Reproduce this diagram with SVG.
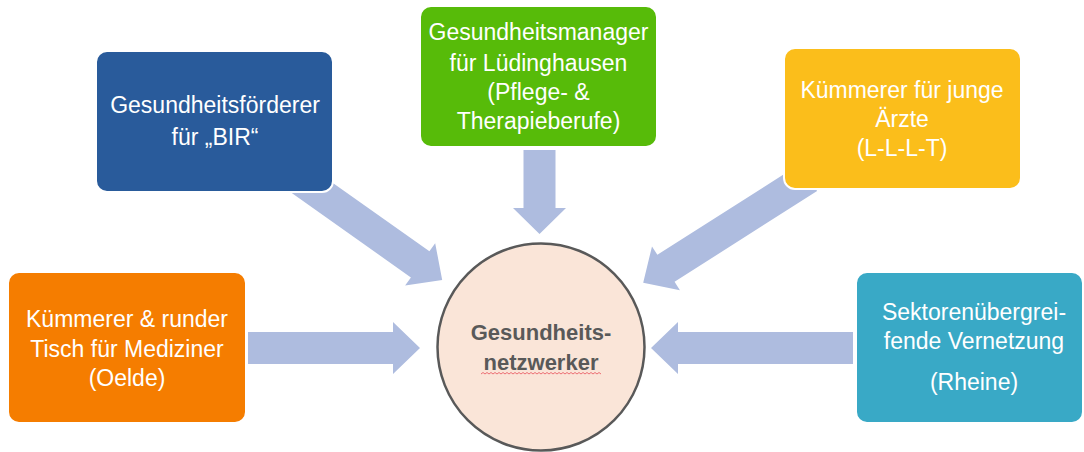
<svg xmlns="http://www.w3.org/2000/svg" width="1084" height="452" viewBox="0 0 1084 452">
  <style>
    .arrow { fill: #AEBCDF; }
    .box { stroke: #FFFFFF; stroke-width: 2; }
    .lbl { font-family: "Liberation Sans", Arial, sans-serif; font-size: 23px; fill: #FFFFFF; text-anchor: middle; }
    .center { font-family: "Liberation Sans", Arial, sans-serif; font-size: 22px; font-weight: bold; fill: #595959; text-anchor: middle; }
  </style>
  <rect width="1084" height="452" fill="#FFFFFF"/>
  <g id="connectors">
    <polygon class="arrow" transform="translate(301,180) rotate(35.3)" points="0,-16 146,-16 146,-26 173,0 146,26 146,16 0,16"/>
    <polygon class="arrow" transform="translate(808.5,177.5) rotate(147.5)" points="0,-16 169,-16 169,-26 196,0 169,26 169,16 0,16"/>
    <polygon class="arrow" transform="translate(539.5,150) rotate(90)" points="0,-16 58,-16 58,-26.5 84,0 58,26.5 58,16 0,16"/>
    <polygon class="arrow" transform="translate(248,348)" points="0,-16 145,-16 145,-26 172,0 145,26 145,16 0,16"/>
    <polygon class="arrow" transform="translate(853,348) rotate(180)" points="0,-16 175,-16 175,-26 202,0 175,26 175,16 0,16"/>
  </g>
  <g id="node-bir">
    <rect class="box" x="96" y="51" width="237" height="141" rx="11" fill="#295B9B"/>
    <text class="lbl" x="215" y="113">Gesundheitsförderer</text>
    <text class="lbl" x="215" y="145">für „BIR“</text>
  </g>
  <g id="node-luedinghausen">
    <rect class="box" x="420" y="6" width="237" height="141" rx="11" fill="#57BB09"/>
    <text class="lbl" x="538.5" y="40">Gesundheitsmanager</text>
    <text class="lbl" x="538.5" y="71">für Lüdinghausen</text>
    <text class="lbl" x="538.5" y="100">(Pflege- &amp;</text>
    <text class="lbl" x="538.5" y="129">Therapieberufe)</text>
  </g>
  <g id="node-llt">
    <rect class="box" x="784" y="48" width="237" height="141" rx="11" fill="#FBBE1B"/>
    <text class="lbl" x="902" y="98">Kümmerer für junge</text>
    <text class="lbl" x="902" y="127">Ärzte</text>
    <text class="lbl" x="902" y="156">(L-L-L-T)</text>
  </g>
  <g id="node-oelde">
    <rect class="box" x="8" y="272" width="238" height="151" rx="11" fill="#F57D00"/>
    <text class="lbl" x="127" y="327">Kümmerer &amp; runder</text>
    <text class="lbl" x="127" y="357">Tisch für Mediziner</text>
    <text class="lbl" x="127" y="386">(Oelde)</text>
  </g>
  <g id="node-rheine">
    <rect class="box" x="856" y="272" width="227" height="151" rx="11" fill="#39A9C6"/>
    <text class="lbl" x="974" y="320">Sektorenübergrei-</text>
    <text class="lbl" x="974" y="349">fende Vernetzung</text>
    <text class="lbl" x="974" y="390">(Rheine)</text>
  </g>
  <g id="node-center">
    <circle cx="541" cy="347" r="103.5" fill="#FAE5D8" stroke="#595959" stroke-width="2.5"/>
    <text class="center" x="541" y="340">Gesundheits-</text>
    <text class="center" x="541" y="370">netzwerker</text>
    <polyline fill="none" stroke="#E8505B" stroke-width="0.8" points="481,374 483,372.5 485,374 487,372.5 489,374 491,372.5 493,374 495,372.5 497,374 499,372.5 501,374 503,372.5 505,374 507,372.5 509,374 511,372.5 513,374 515,372.5 517,374 519,372.5 521,374 523,372.5 525,374 527,372.5 529,374 531,372.5 533,374 535,372.5 537,374 539,372.5 541,374 543,372.5 545,374 547,372.5 549,374 551,372.5 553,374 555,372.5 557,374 559,372.5 561,374 563,372.5 565,374 567,372.5 569,374 571,372.5 573,374 575,372.5 577,374 579,372.5 581,374 583,372.5 585,374 587,372.5 589,374 591,372.5 593,374 595,372.5 597,374 599,372.5 601,374"/>
  </g>
</svg>
